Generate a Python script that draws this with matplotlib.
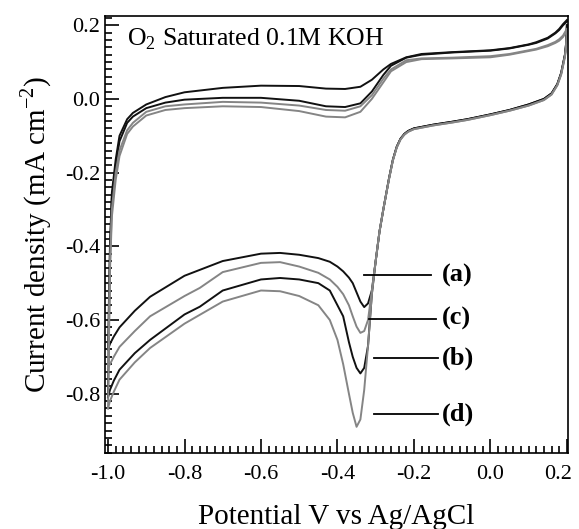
import matplotlib
matplotlib.use("Agg")
import matplotlib.pyplot as plt
import matplotlib.transforms as mtransforms
from matplotlib.ticker import MultipleLocator

plt.rcParams["font.family"] = ["Liberation Serif", "DejaVu Serif"]
plt.rcParams["mathtext.fontset"] = "custom"
plt.rcParams["mathtext.rm"] = "Liberation Serif"
plt.rcParams["axes.unicode_minus"] = False

# forward (anodic) sweep, -1.0 -> 0.2 V
v_fwd = [-1.0, -0.995, -0.99, -0.98, -0.97, -0.95, -0.935, -0.9, -0.85, -0.8,
         -0.7, -0.6, -0.5, -0.43, -0.38, -0.34, -0.31, -0.28, -0.26, -0.22,
         -0.18, -0.1, 0.0, 0.05, 0.1, 0.12, 0.15, 0.17, 0.18, 0.19, 0.2]
i_fwd_a = [-0.68, -0.40, -0.255, -0.165, -0.10, -0.055, -0.038, -0.015, 0.005, 0.018,
           0.03, 0.036, 0.035, 0.028, 0.027, 0.033, 0.052, 0.08, 0.095, 0.113,
           0.122, 0.127, 0.132, 0.138, 0.148, 0.154, 0.166, 0.18, 0.19, 0.203, 0.214]
i_fwd_b = [-0.81, -0.42, -0.27, -0.18, -0.115, -0.065, -0.048, -0.025, -0.01, -0.002,
           0.003, 0.003, -0.005, -0.02, -0.022, -0.012, 0.02, 0.065, 0.09, 0.112,
           0.12, 0.126, 0.131, 0.137, 0.147, 0.152, 0.164, 0.178, 0.187, 0.20, 0.21]
i_fwd_c = [-0.73, -0.45, -0.30, -0.20, -0.14, -0.085, -0.065, -0.035, -0.02, -0.015,
           -0.008, -0.01, -0.018, -0.03, -0.032, -0.02, 0.01, 0.055, 0.08, 0.105,
           0.11, 0.112, 0.116, 0.122, 0.132, 0.136, 0.146, 0.155, 0.162, 0.172, 0.19]
i_fwd_d = [-0.84, -0.47, -0.32, -0.22, -0.155, -0.095, -0.075, -0.045, -0.03, -0.025,
           -0.02, -0.022, -0.033, -0.048, -0.05, -0.035, 0.0, 0.045, 0.075, 0.10,
           0.108, 0.11, 0.113, 0.12, 0.13, 0.134, 0.143, 0.152, 0.158, 0.168, 0.185]

# reverse (cathodic) sweep, 0.2 -> -1.0 V
v_rev = [0.2, 0.198, 0.195, 0.19, 0.185, 0.175, 0.16, 0.14, 0.1, 0.05, 0.0,
         -0.06, -0.1, -0.15, -0.2, -0.215, -0.225, -0.235, -0.245, -0.255, -0.265,
         -0.28, -0.29, -0.30, -0.31, -0.32, -0.33, -0.34, -0.35, -0.36, -0.37,
         -0.385, -0.40, -0.42, -0.45, -0.5, -0.55, -0.6, -0.7, -0.76, -0.8,
         -0.89, -0.93, -0.97, -0.985, -0.995, -1.0]
i_rev_a = [0.20, 0.15, 0.12, 0.095, 0.07, 0.04, 0.015, 0.0, -0.015, -0.03, -0.042,
           -0.055, -0.062, -0.07, -0.08, -0.087, -0.095, -0.108, -0.13, -0.165, -0.215,
           -0.30, -0.36, -0.44, -0.52, -0.555, -0.565, -0.55, -0.525, -0.50, -0.485,
           -0.468, -0.455, -0.442, -0.432, -0.423, -0.418, -0.42, -0.44, -0.464, -0.48,
           -0.537, -0.575, -0.62, -0.645, -0.665, -0.68]
i_rev_b = [0.20, 0.15, 0.12, 0.095, 0.07, 0.04, 0.015, 0.0, -0.015, -0.03, -0.042,
           -0.055, -0.062, -0.07, -0.08, -0.087, -0.095, -0.108, -0.13, -0.165, -0.215,
           -0.30, -0.36, -0.44, -0.53, -0.67, -0.73, -0.745, -0.73, -0.70, -0.66,
           -0.59, -0.56, -0.52, -0.50, -0.49, -0.486, -0.49, -0.52, -0.564, -0.585,
           -0.654, -0.69, -0.735, -0.765, -0.79, -0.81]
i_rev_c = [0.18, 0.14, 0.115, 0.09, 0.066, 0.037, 0.012, -0.003, -0.018, -0.032, -0.044,
           -0.057, -0.064, -0.072, -0.082, -0.089, -0.097, -0.11, -0.132, -0.167, -0.217,
           -0.30, -0.36, -0.44, -0.52, -0.60, -0.63, -0.635, -0.618, -0.59, -0.56,
           -0.53, -0.51, -0.49, -0.472, -0.455, -0.443, -0.445, -0.47, -0.513, -0.535,
           -0.59, -0.63, -0.673, -0.70, -0.72, -0.73]
i_rev_d = [0.18, 0.14, 0.115, 0.09, 0.066, 0.037, 0.012, -0.003, -0.018, -0.032, -0.044,
           -0.057, -0.064, -0.072, -0.082, -0.089, -0.097, -0.11, -0.132, -0.167, -0.217,
           -0.30, -0.36, -0.44, -0.53, -0.67, -0.79, -0.87, -0.89, -0.852, -0.80,
           -0.72, -0.654, -0.60, -0.56, -0.535, -0.522, -0.52, -0.55, -0.586, -0.61,
           -0.676, -0.715, -0.762, -0.795, -0.82, -0.84]

curves = [
    ("(a)", i_fwd_a, i_rev_a, "#111111"),
    ("(b)", i_fwd_b, i_rev_b, "#111111"),
    ("(c)", i_fwd_c, i_rev_c, "#858585"),
    ("(d)", i_fwd_d, i_rev_d, "#858585"),
]

# label leader lines: (text, y, x start, x end)
labels = [
    ("(a)", -0.478, -0.33, -0.155),
    ("(c)", -0.597, -0.317, -0.142),
    ("(b)", -0.703, -0.304, -0.137),
    ("(d)", -0.855, -0.304, -0.137),
]

fig = plt.figure(figsize=(5.79, 5.29), dpi=100)
ax = fig.add_axes([0.1813, 0.1437, 0.7997, 0.826])

for name, i_f, i_r, col in curves:
    ax.plot(v_fwd, i_f, color=col, lw=1.4, solid_joinstyle="round")
    ax.plot(v_rev, i_r, color=col, lw=1.4, solid_joinstyle="round")

for txt, y, x0, x1 in labels:
    ax.plot([x0, x1], [y, y], color="black", lw=1.3)
    ax.text(-0.127, y, txt, fontsize=19, fontweight="bold", va="center", ha="left")

ax.text(-0.95, 0.163, "O$_2$ Saturated 0.1M KOH", fontsize=18.5, va="center", ha="left")

ax.set_xlim(-1.008, 0.203)
ax.set_ylim(-0.961, 0.225)
ax.xaxis.set_major_locator(MultipleLocator(0.2))
ax.xaxis.set_minor_locator(MultipleLocator(0.02))
ax.yaxis.set_major_locator(MultipleLocator(0.2))
ax.yaxis.set_minor_locator(MultipleLocator(0.02))
ax.xaxis.set_major_formatter(plt.FuncFormatter(lambda v, p: "%.1f" % v))
ax.yaxis.set_major_formatter(plt.FuncFormatter(lambda v, p: "%.1f" % v))
ax.tick_params(which="both", direction="in", top=False, right=False, width=1.2, labelsize=16)
ax.tick_params(which="major", length=10)
ax.tick_params(axis="x", which="major", pad=9)
ax.tick_params(which="minor", length=5)
for s in ax.spines.values():
    s.set_linewidth(1.2)

ax.set_xlabel("Potential V vs Ag/AgCl", fontsize=21, labelpad=14)
ax.set_ylabel("Current density (mA cm$^{-2}$)", fontsize=21, labelpad=8)

# nudge the last x tick label so it stays inside the figure
fig.canvas.draw()
shift = mtransforms.ScaledTranslation(-6 / 72, 0, fig.dpi_scale_trans)
for tick in ax.xaxis.get_major_ticks():
    if tick.label1.get_text() == "0.2":
        tick.label1.set_transform(tick.label1.get_transform() + shift)

fig.savefig("out.png", dpi=100)
